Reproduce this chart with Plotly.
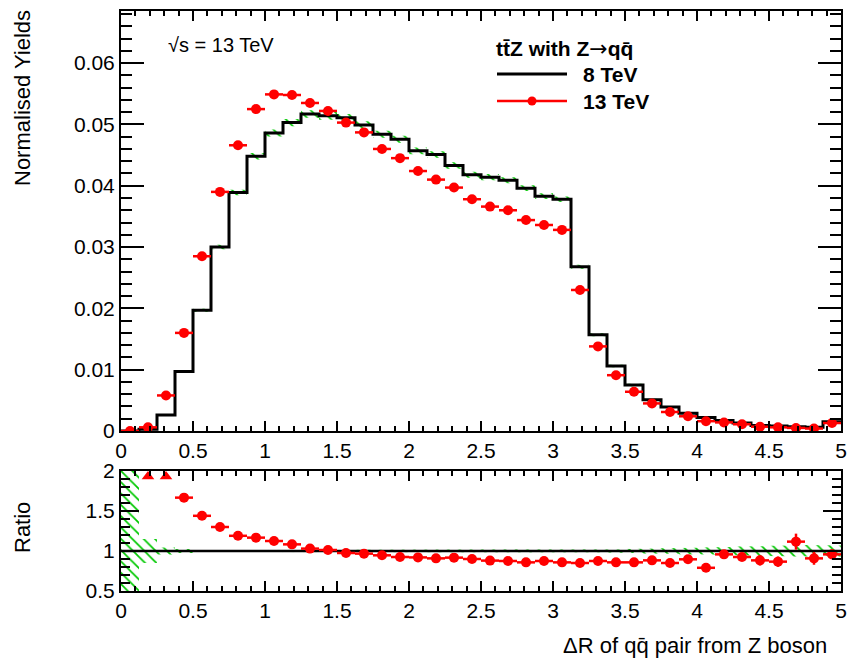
import numpy as np
import plotly.graph_objects as go

# Binning of the Delta R distribution
n_bins = 40
x_min, x_max = 0.0, 5.0

# Normalised yields per bin
yields_8tev = [0.0000, 0.0003, 0.0026, 0.0097, 0.0197, 0.0300, 0.0389, 0.0448,
               0.0486, 0.0503, 0.0517, 0.0514, 0.0511, 0.0499, 0.0484, 0.0476,
               0.0457, 0.0451, 0.0433, 0.0418, 0.0414, 0.0409, 0.0396, 0.0383,
               0.0378, 0.0268, 0.0157, 0.0106, 0.0075, 0.0051, 0.0039, 0.0029,
               0.0022, 0.0017, 0.0013, 0.0009, 0.0008, 0.0007, 0.0006, 0.0015]
yields_13tev = [0.0000, 0.0006, 0.0058, 0.0160, 0.0285, 0.0390, 0.0466, 0.0525,
                0.0549, 0.0548, 0.0535, 0.0522, 0.0503, 0.0487, 0.0460, 0.0445,
                0.0424, 0.0410, 0.0397, 0.0378, 0.0366, 0.0360, 0.0344, 0.0336,
                0.0328, 0.0230, 0.0138, 0.0091, 0.0064, 0.0045, 0.0031, 0.0024,
                0.0016, 0.0014, 0.0011, 0.0007, 0.0006, 0.0005, 0.0004, 0.0013]
yields_13tev_err = [0.0000, 0.0001, 0.0002, 0.0003, 0.0003, 0.0004, 0.0004, 0.0004,
                    0.0004, 0.0004, 0.0004, 0.0004, 0.0004, 0.0004, 0.0004, 0.0004,
                    0.0004, 0.0004, 0.0004, 0.0004, 0.0004, 0.0004, 0.0004, 0.0004,
                    0.0004, 0.0003, 0.0003, 0.0002, 0.0002, 0.0002, 0.0001, 0.0001,
                    0.0001, 0.0001, 0.0001, 0.0001, 0.0001, 0.0001, 0.0001, 0.0001]

# 13 TeV / 8 TeV ratio and its uncertainty
ratio = [None, 2.30, 2.15, 1.667, 1.44, 1.30, 1.19, 1.167,
         1.125, 1.083, 1.03, 1.0125, 0.975, 0.967, 0.946, 0.925,
         0.92, 0.908, 0.917, 0.90, 0.88, 0.875, 0.858, 0.875,
         0.858, 0.85, 0.875, 0.858, 0.858, 0.883, 0.85, 0.896,
         0.79, 0.958, 0.925, 0.883, 0.867, 1.117, 0.908, 0.958]
ratio_err = [0.0, 0.0, 0.0, 0.02, 0.015, 0.012, 0.01, 0.01,
             0.01, 0.01, 0.01, 0.01, 0.01, 0.01, 0.01, 0.01,
             0.01, 0.01, 0.01, 0.01, 0.01, 0.01, 0.01, 0.01,
             0.01, 0.012, 0.015, 0.02, 0.025, 0.03, 0.03, 0.035,
             0.035, 0.04, 0.05, 0.065, 0.065, 0.10, 0.08, 0.06]

# Relative statistical uncertainty of the 8 TeV reference
ref_rel_unc = [1.5, 0.15, 0.045, 0.025, 0.012, 0.012, 0.012, 0.012,
               0.012, 0.012, 0.012, 0.012, 0.012, 0.012, 0.012, 0.012,
               0.012, 0.012, 0.012, 0.012, 0.012, 0.012, 0.012, 0.012,
               0.012, 0.012, 0.015, 0.02, 0.025, 0.03, 0.035, 0.04,
               0.045, 0.05, 0.055, 0.06, 0.065, 0.07, 0.075, 0.07]

edges = np.linspace(x_min, x_max, n_bins + 1)
centers = 0.5 * (edges[:-1] + edges[1:])
half_width = 0.5 * (edges[1] - edges[0])

FONT = "Liberation Sans"
W, H = 849, 664
GREEN = "#00c800"
RED = "#ff0000"

# subplot frames in pixels
PX_L, PX_R = 121, 841
TOP_T, TOP_B = 11, 431
RAT_T, RAT_B = 471, 591
RATIO_MAX = 2.0


def px_x(p):
    return p / W


def px_y(p):
    return 1 - p / H


def band_polygon(lo, hi):
    xs, ys = [], []
    for i in range(n_bins):
        xs += [edges[i], edges[i + 1]]
        ys += [hi[i], hi[i]]
    for i in reversed(range(n_bins)):
        xs += [edges[i + 1], edges[i]]
        ys += [lo[i], lo[i]]
    return xs, ys


hatch = dict(shape="\\", fgcolor=GREEN, bgcolor="rgba(0,0,0,0)", size=8, solidity=0.22)

fig = go.Figure()

# ---- upper panel ----
y8 = np.array(yields_8tev)
u = np.array(ref_rel_unc)
bx, by = band_polygon(y8 * (1 - np.minimum(u, 1)), y8 * (1 + np.minimum(u, 1)))
fig.add_trace(go.Scatter(x=bx, y=by, mode="lines", fill="toself", line=dict(width=0),
                         fillcolor="rgba(0,0,0,0)", fillpattern=hatch,
                         xaxis="x", yaxis="y", hoverinfo="skip", showlegend=False))
fig.add_trace(go.Scatter(x=list(edges), y=yields_8tev + [yields_8tev[-1]], mode="lines",
                         line=dict(color="black", width=3, shape="hv"),
                         xaxis="x", yaxis="y", name="8 TeV", showlegend=False))
fig.add_trace(go.Scatter(x=centers, y=yields_13tev, mode="markers",
                         marker=dict(color=RED, size=10),
                         error_x=dict(type="constant", value=half_width, color=RED, thickness=2.5, width=0),
                         error_y=dict(type="data", array=yields_13tev_err, color=RED, thickness=2.5, width=0),
                         xaxis="x", yaxis="y", name="13 TeV", showlegend=False))

# ---- ratio panel ----
r_lo = [1 - v for v in ref_rel_unc]
r_hi = [1 + v for v in ref_rel_unc]
bx, by = band_polygon(r_lo, r_hi)
fig.add_trace(go.Scatter(x=bx, y=by, mode="lines", fill="toself", line=dict(width=0),
                         fillcolor="rgba(0,0,0,0)", fillpattern=hatch,
                         xaxis="x2", yaxis="y2", hoverinfo="skip", showlegend=False))
ref_ratio = [a / a if a > 0 else 1.0 for a in yields_8tev]
fig.add_trace(go.Scatter(x=list(edges), y=ref_ratio + [ref_ratio[-1]], mode="lines",
                         line=dict(color="black", width=2.5, shape="hv"),
                         xaxis="x2", yaxis="y2", showlegend=False))

in_x, in_y, in_e, out_x = [], [], [], []
for c, r, e in zip(centers, ratio, ratio_err):
    if r is None:
        continue
    if r > RATIO_MAX:
        out_x.append(c)
    else:
        in_x.append(c)
        in_y.append(r)
        in_e.append(e)
fig.add_trace(go.Scatter(x=in_x, y=in_y, mode="markers",
                         marker=dict(color=RED, size=10),
                         error_x=dict(type="constant", value=half_width, color=RED, thickness=2.5, width=0),
                         error_y=dict(type="data", array=in_e, color=RED, thickness=2.5, width=0),
                         xaxis="x2", yaxis="y2", showlegend=False))
# out-of-range ratios flagged at the upper edge
fig.add_trace(go.Scatter(x=out_x, y=[RATIO_MAX - 0.07] * len(out_x), mode="markers",
                         marker=dict(color=RED, size=11, symbol="triangle-up"),
                         xaxis="x2", yaxis="y2", showlegend=False))

axis_common = dict(showline=True, linecolor="black", linewidth=2, mirror="ticks",
                   ticks="inside", tickcolor="black", tickwidth=1.5,
                   showgrid=False, zeroline=False, automargin=False,
                   tickfont=dict(family=FONT, size=21, color="black"))
xdom = [px_x(PX_L), px_x(PX_R)]

fig.update_layout(
    template="none",
    width=W, height=H,
    margin=dict(l=0, r=0, t=0, b=0, pad=0),
    paper_bgcolor="white", plot_bgcolor="white",
    font=dict(family=FONT, color="black"),
    showlegend=False,
    xaxis=dict(domain=xdom, range=[x_min, x_max], anchor="y", tick0=0, dtick=0.5, ticklen=10,
               minor=dict(ticks="inside", dtick=0.1, ticklen=5, tickcolor="black", tickwidth=1.5),
               **axis_common),
    yaxis=dict(domain=[px_y(TOP_B), px_y(TOP_T)], range=[0, 0.0685], anchor="x",
               tick0=0, dtick=0.01, ticklen=23,
               minor=dict(ticks="inside", dtick=0.002, ticklen=11, tickcolor="black", tickwidth=1.5),
               **axis_common),
    xaxis2=dict(domain=xdom, range=[x_min, x_max], anchor="y2", tick0=0, dtick=0.5, ticklen=10,
                minor=dict(ticks="inside", dtick=0.1, ticklen=5, tickcolor="black", tickwidth=1.5),
                **axis_common),
    yaxis2=dict(domain=[px_y(RAT_B), px_y(RAT_T)], range=[0.5, RATIO_MAX], anchor="x2",
                tick0=0, dtick=0.5, ticklen=18,
                minor=dict(ticks="inside", dtick=0.1, ticklen=9, tickcolor="black", tickwidth=1.5),
                **axis_common),
)

ann = []
ann.append(dict(text="Normalised Yields", x=px_x(22), y=px_y(98), textangle=-90,
                xanchor="center", yanchor="middle", font=dict(size=22)))
ann.append(dict(text="Ratio", x=px_x(22), y=px_y(528), textangle=-90,
                xanchor="center", yanchor="middle", font=dict(size=22)))
ann.append(dict(text="ΔR of qq\u0304 pair from Z boson", x=px_x(829), y=px_y(645),
                xanchor="right", yanchor="middle", font=dict(size=22)))
ann.append(dict(text="√s = 13 TeV", x=px_x(166), y=px_y(45),
                xanchor="left", yanchor="middle", font=dict(size=20)))
ann.append(dict(text="<b>tt\u0304Z with Z</b><span style='font-family:DejaVu Sans;font-size:22px'>→</span><b>qq\u0304</b>",
                x=px_x(564), y=px_y(48),
                xanchor="center", yanchor="middle", font=dict(size=21)))
ann.append(dict(text="<b>8 TeV</b>", x=px_x(581), y=px_y(74),
                xanchor="left", yanchor="middle", font=dict(size=21)))
ann.append(dict(text="<b>13 TeV</b>", x=px_x(581), y=px_y(101),
                xanchor="left", yanchor="middle", font=dict(size=21)))
for a in ann:
    a.update(xref="paper", yref="paper", showarrow=False)
    a["font"].update(family=FONT, color="black")
fig.update_layout(annotations=ann)

# legend keys
shapes = [
    dict(type="line", x0=px_x(497), x1=px_x(567), y0=px_y(74), y1=px_y(74),
         line=dict(color="black", width=3)),
    dict(type="line", x0=px_x(497), x1=px_x(567), y0=px_y(101), y1=px_y(101),
         line=dict(color=RED, width=2.5)),
    dict(type="circle", x0=px_x(527.5), x1=px_x(536.5), y0=px_y(105.5), y1=px_y(96.5),
         fillcolor=RED, line=dict(color=RED, width=0)),
]
for s in shapes:
    s.update(xref="paper", yref="paper")
fig.update_layout(shapes=shapes)

fig.write_html("out.html")
